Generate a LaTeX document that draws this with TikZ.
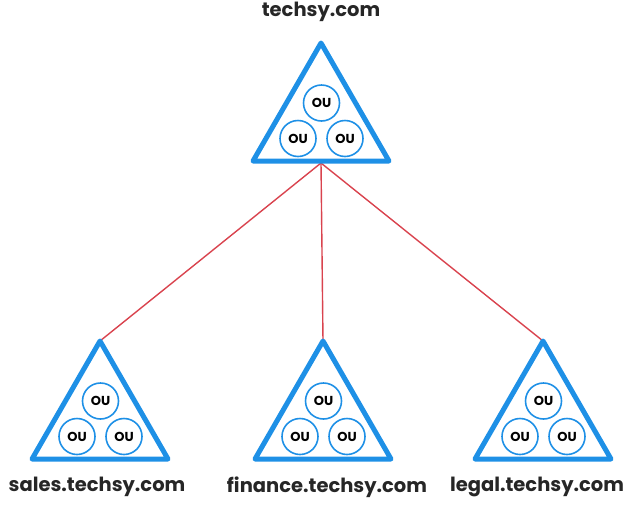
\documentclass[tikz,border=0pt]{standalone}
\usepackage{fontspec}
\setmainfont{Poppins}
\usetikzlibrary{positioning, calc}
\definecolor{domblue}{HTML}{1E90E6}
\definecolor{linkred}{HTML}{D9434E}

\begin{document}
\begin{tikzpicture}[x = 1pt, y = -1pt,
		tri/.style = {domblue, line width = 5pt, line join = round},
		ou/.style = {circle, draw = domblue, line width = 1.6pt, minimum size = 36pt, inner sep = 0pt, font = \bfseries\fontsize{13}{13}\selectfont},
		dom/.style = {font = \bfseries\fontsize{19.5}{19.5}\selectfont, text = black!85},
		link/.style = {linkred, line width = 1.4pt}]
		\useasboundingbox (0, 0) rectangle (642, 504);
		%%%%%%%%%%%%%
		\coordinate (root) at (321, 43);
		\coordinate (rootbase) at (321, 163);
		\coordinate (sales) at (100, 341);
		\coordinate (finance) at (323, 341);
		\coordinate (legal) at (543, 341);
		%%%%%%%%%%%%%
		\draw [link] (rootbase) to (sales);
		\draw [link] (rootbase) to (finance);
		\draw [link] (rootbase) to (legal);
		%%%%%%%%%%%%%
		\foreach \d in {root, sales, finance, legal} {
			\draw [tri] (\d) -- ++(68, 118) -- ++(-136, 0) -- cycle;
			\node [ou] (\d-a) at ($(\d) + (0.5, 60)$) {OU};
			\node [ou] (\d-b) at ($(\d) + (-23, 95.5)$) {OU};
			\node [ou] (\d-c) at ($(\d) + (24, 95.5)$) {OU};
		}
		%%%%%%%%%%%%%
		\node [dom] (rootname) at (321, 12) {techsy.com};
		\node [dom] (salesname) at (97, 487) {sales.techsy.com};
		\node [dom] (financename) at (327, 487) {finance.techsy.com};
		\node [dom] (legalname) at (537, 487) {legal.techsy.com};
\end{tikzpicture}
\end{document}
